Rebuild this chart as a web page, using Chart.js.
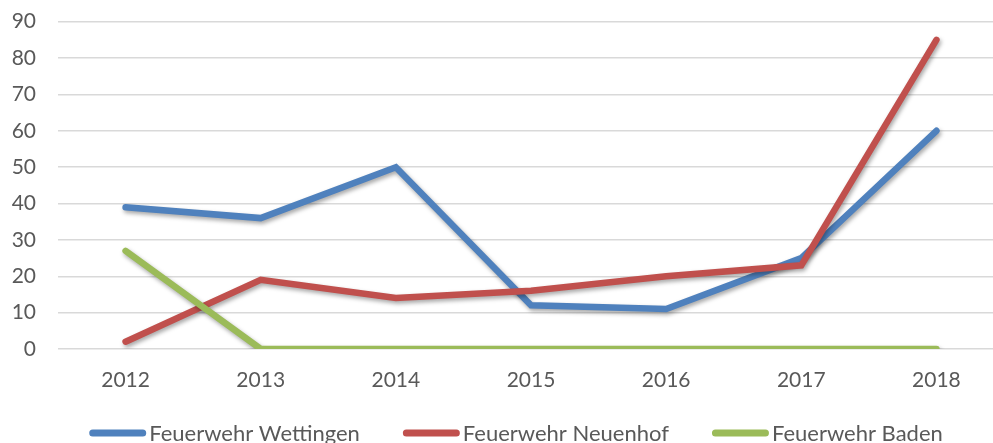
<!DOCTYPE html>
<html>
<head>
<meta charset="utf-8">
<script src="https://cdn.jsdelivr.net/npm/chart.js@4/dist/chart.umd.min.js"></script>
<style>
  html, body { margin: 0; padding: 0; background: #fff; overflow: hidden; }
  #wrap { width: 1005px; height: 443px; position: relative; }
</style>
</head>
<body>
<div id="wrap"><canvas id="c"></canvas></div>
<script>
const categories = ['2012', '2013', '2014', '2015', '2016', '2017', '2018'];
const seriesNames = ['Feuerwehr Wettingen', 'Feuerwehr Neuenhof', 'Feuerwehr Baden'];
const wettingen = [39, 36, 50, 12, 11, 25, 60];
const neuenhof = [2, 19, 14, 16, 20, 23, 85];
const baden = [27, 0, 0, 0, 0, 0, 0];
const colors = ['#4F81BD', '#C0504D', '#9BBB59'];
const yMin = 0, yMax = 90, yStep = 10;

const FONT = 'Lato, "Noto Sans", sans-serif';
const TEXT = '#595959';

const shadowPlugin = {
  id: 'shadow',
  beforeDatasetDraw(chart) {
    const ctx = chart.ctx;
    ctx.save();
    ctx.shadowColor = 'rgba(0,0,0,0.35)';
    ctx.shadowBlur = 4;
    ctx.shadowOffsetX = 1.5;
    ctx.shadowOffsetY = 2.5;
  },
  afterDatasetDraw(chart) {
    chart.ctx.restore();
  }
};

const legendPlugin = {
  id: 'customLegend',
  afterDraw(chart) {
    const ctx = chart.ctx;
    ctx.save();
    ctx.font = '22px ' + FONT;
    ctx.textBaseline = 'middle';
    const lineW = 57, gapLT = 3, gapItem = 43;
    const items = chart.data.datasets.map(d => ({ label: d.label, color: d.borderColor, tw: ctx.measureText(d.label).width }));
    const total = items.reduce((s, it) => s + lineW + gapLT + it.tw, 0) + gapItem * (items.length - 1);
    const center = 516;
    let x = center - total / 2;
    const y = 433;
    items.forEach(it => {
      ctx.strokeStyle = it.color;
      ctx.lineWidth = 7;
      ctx.lineCap = 'round';
      ctx.beginPath();
      ctx.moveTo(x + 3.5, y);
      ctx.lineTo(x + lineW - 3.5, y);
      ctx.stroke();
      ctx.fillStyle = TEXT;
      ctx.fillText(it.label, x + lineW + gapLT, y + 1);
      x += lineW + gapLT + it.tw + gapItem;
    });
    ctx.restore();
  }
};

const datasets = [wettingen, neuenhof, baden].map((vals, i) => ({
  label: seriesNames[i],
  data: vals,
  borderColor: colors[i],
  backgroundColor: colors[i],
  borderWidth: 6.5,
  borderCapStyle: 'round',
  borderJoinStyle: 'miter',
  pointRadius: 0,
  pointHoverRadius: 0,
  tension: 0,
  order: 3 - i
}));

new Chart(document.getElementById('c'), {
  type: 'line',
  data: { labels: categories, datasets },
  plugins: [shadowPlugin, legendPlugin],
  options: {
    responsive: true,
    maintainAspectRatio: false,
    animation: false,
    events: [],
    layout: { padding: { top: 21.7, right: 1, left: 0, bottom: 0 } },
    plugins: { legend: { display: false }, tooltip: { enabled: false } },
    scales: {
      x: {
        offset: true,
        grid: { display: false, drawTicks: false },
        border: { display: false },
        ticks: { color: TEXT, font: { family: FONT, size: 21 }, padding: 19, maxRotation: 0 },
        afterFit(scale) { scale.height = 94; }
      },
      y: {
        min: yMin, max: yMax,
        grid: { color: '#D9D9D9', lineWidth: 1.5, drawTicks: false },
        border: { display: false },
        ticks: { stepSize: yStep, color: TEXT, font: { family: FONT, size: 21, lineHeight: 0.8 }, padding: 22 },
        afterFit(scale) { scale.width = 58; scale.paddingTop = 0; scale.paddingBottom = 0; }
      }
    }
  }
});
</script>
</body>
</html>
